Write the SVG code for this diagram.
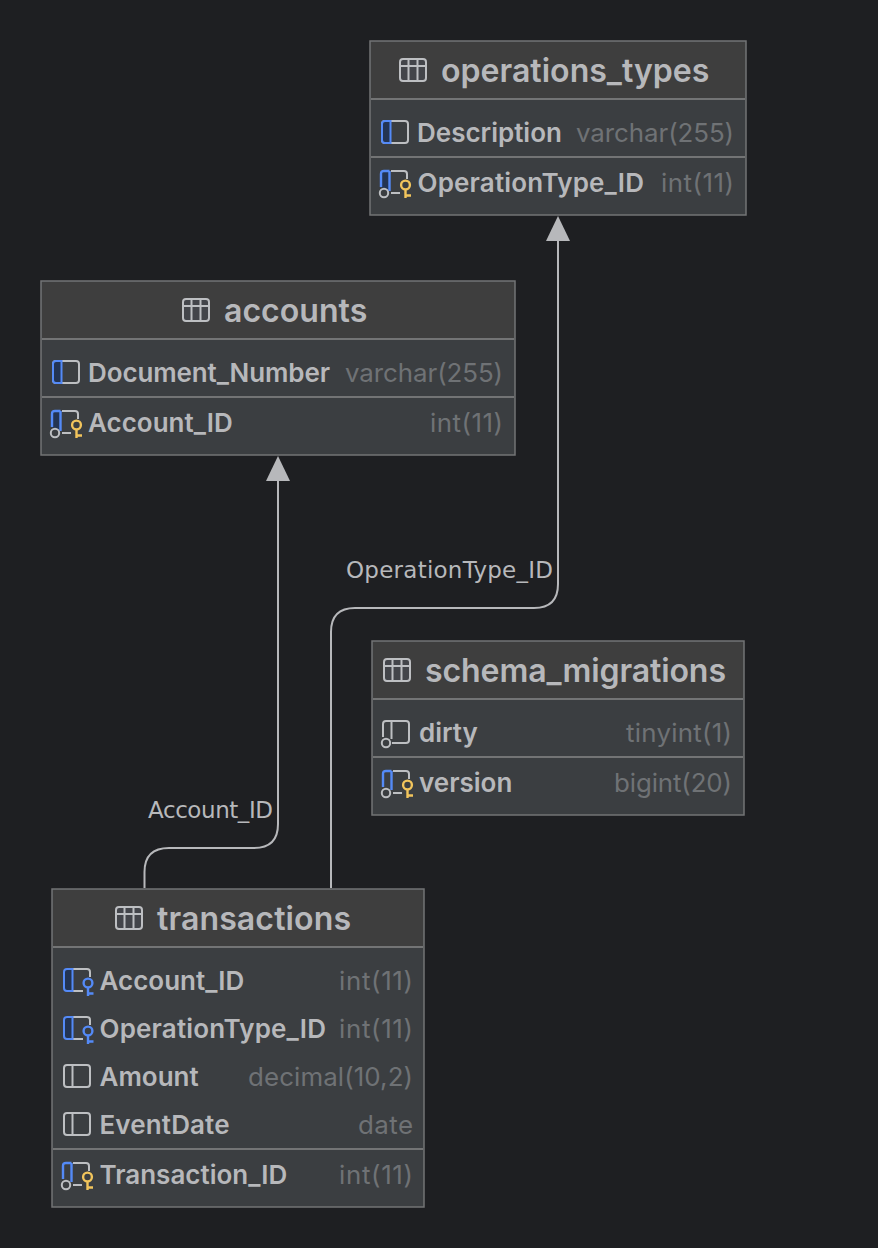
<svg xmlns="http://www.w3.org/2000/svg" width="878" height="1248" viewBox="0 0 878 1248">
<style>
.box{fill:#3b3e41;stroke:#737475;stroke-width:1.5}
.hd{fill:#3e3e3e}
.sep{stroke:#737475;stroke-width:2}
text{font-family:Inter,"Liberation Sans",sans-serif}
.t{font-size:32.1px;font-weight:600;fill:#b7b8bb}
.c{font-size:26px;font-weight:600;fill:#b7b8bb}
.y{font-size:25.9px;fill:#6f7275;text-anchor:end}
.l{font-family:"DejaVu Sans","Liberation Sans",sans-serif;font-size:23px;fill:#b7b8bb}
.w{fill:none;stroke:#bdbfc2;stroke-width:2}
.b{fill:#233453;stroke:#548af7;stroke-width:2}
.k{fill:none;stroke:#f2c55c;stroke-width:2.4}
.ko{fill:#3b3e41;stroke:#bdbfc2;stroke-width:2}
.kb{fill:none;stroke:#548af7;stroke-width:2.4}
.conn{fill:none;stroke:#b7b8bb;stroke-width:2}
</style>
<defs>
<g id="tbl"><rect x="1" y="1" width="26" height="22" rx="3" fill="#43454a" stroke="#bdbfc2" stroke-width="2"/><path d="M1 8H27M9.5 1V23M18.5 1V23" stroke="#bdbfc2" stroke-width="2" fill="none"/></g>
<g id="col"><rect x="1" y="1" width="26" height="22" rx="3" class="w"/><path d="M9.5 1V23" class="w"/></g>
<g id="colb"><rect x="1" y="1" width="26" height="22" rx="3" class="w"/><path d="M9.5 1H4Q1 1 1 4V20Q1 23 4 23H9.5Z" class="b"/></g>
<g id="pk"><path d="M11 1H24Q27 1 27 4V9M11 23H20" class="w"/><path d="M2 2H9.5V21H2Z" fill="#233453"/><path d="M9.5 1H4Q1 1 1 4V17M9.5 1V21" class="kb"/><circle cx="4" cy="23" r="4.2" class="ko"/><circle cx="25.5" cy="15" r="4.4" class="k"/><path d="M25.5 19.5V28M25.5 25.5H31" class="k"/></g>
<g id="pkn"><path d="M11 1H24Q27 1 27 4V9M11 23H20" class="w"/><path d="M9.5 1H4Q1 1 1 4V17M9.5 1V20" class="kb"/><circle cx="4" cy="23" r="4.2" class="ko"/><circle cx="25.5" cy="15" r="4.4" class="k"/><path d="M25.5 19.5V28M25.5 25.5H31" class="k"/></g>
<g id="fk"><path d="M9.5 1H24Q27 1 27 4V9M9.5 23H20" class="w"/><path d="M9.5 1H4Q1 1 1 4V20Q1 23 4 23H9.5Z" class="b"/><circle cx="25" cy="15" r="4.4" class="kb"/><path d="M25 19.5V28M25 25.5H30.5" class="kb"/></g>
<g id="nul"><path d="M9.5 1H24Q27 1 27 4V20Q27 23 24 23H10M9.5 1H4Q1 1 1 4V17M9.5 1V19" class="w"/><circle cx="4" cy="23" r="4.2" class="ko"/></g>
</defs>

<rect width="878" height="1248" fill="#1e1f22"/>

<g id="connectors">
<path class="conn" d="M331 888V632Q331 608 355 608H534Q558 608 558 584V240"/>
<polygon points="558,216 546,241 570,241" fill="#b7b8bb"/>
<path class="conn" d="M144.5 888V872Q144.5 848 169 848H254Q278 848 278 824V480"/>
<polygon points="278,456 266,481 290,481" fill="#b7b8bb"/>
<text class="l" x="346" y="578" textLength="207">OperationType_ID</text>
<text class="l" x="148" y="818" textLength="125">Account_ID</text>
</g>

<g id="operations_types">
<rect class="box" x="370" y="41" width="376" height="174"/>
<rect class="hd" x="371" y="42" width="374" height="57"/>
<path class="sep" d="M371 99H745M371 157H745"/>
<use href="#tbl" x="399" y="58"/>
<text class="t" x="441" y="82">operations_types</text>
<use href="#colb" x="381" y="120"/>
<text class="c" x="417" y="142">Description</text>
<text class="y" x="734" y="142" textLength="158">varchar(255)</text>
<use href="#pk" x="380" y="170"/>
<text class="c" x="417.5" y="192" textLength="226.5">OperationType_ID</text>
<text class="y" x="734" y="192" textLength="73">int(11)</text>
</g>

<g id="accounts">
<rect class="box" x="41" y="281" width="474" height="174"/>
<rect class="hd" x="42" y="282" width="472" height="57"/>
<path class="sep" d="M42 339H514M42 397H514"/>
<use href="#tbl" x="182" y="298"/>
<text class="t" x="224" y="322">accounts</text>
<use href="#colb" x="52" y="360"/>
<text class="c" x="88" y="382" textLength="242">Document_Number</text>
<text class="y" x="503" y="382" textLength="158">varchar(255)</text>
<use href="#pk" x="51" y="410"/>
<text class="c" x="88" y="432">Account_ID</text>
<text class="y" x="503" y="432" textLength="73">int(11)</text>
</g>

<g id="schema_migrations">
<rect class="box" x="372" y="641" width="372" height="174"/>
<rect class="hd" x="373" y="642" width="370" height="57"/>
<path class="sep" d="M373 699H743M373 757H743"/>
<use href="#tbl" x="383" y="658"/>
<text class="t" x="425" y="682" textLength="301">schema_migrations</text>
<use href="#nul" x="382" y="720"/>
<text class="c" x="419" y="742">dirty</text>
<text class="y" x="732" y="742" textLength="106">tinyint(1)</text>
<use href="#pkn" x="382" y="770"/>
<text class="c" x="419" y="792">version</text>
<text class="y" x="732" y="792" textLength="118">bigint(20)</text>
</g>

<g id="transactions">
<rect class="box" x="52" y="889" width="372" height="318"/>
<rect class="hd" x="53" y="890" width="370" height="57"/>
<path class="sep" d="M53 947H423M53 1149H423"/>
<use href="#tbl" x="115" y="906"/>
<text class="t" x="157" y="930" textLength="194">transactions</text>
<use href="#fk" x="63" y="968"/>
<text class="c" x="99.5" y="990">Account_ID</text>
<text class="y" x="413" y="990" textLength="74">int(11)</text>
<use href="#fk" x="63" y="1016"/>
<text class="c" x="99.5" y="1038" textLength="226.5">OperationType_ID</text>
<text class="y" x="413" y="1038" textLength="74">int(11)</text>
<use href="#col" x="63" y="1064"/>
<text class="c" x="99.5" y="1086">Amount</text>
<text class="y" x="413" y="1086" textLength="165">decimal(10,2)</text>
<use href="#col" x="63" y="1112"/>
<text class="c" x="99.5" y="1134" textLength="130">EventDate</text>
<text class="y" x="413" y="1134" textLength="55">date</text>
<use href="#pkn" x="62" y="1162"/>
<text class="c" x="99.5" y="1184">Transaction_ID</text>
<text class="y" x="413" y="1184" textLength="74">int(11)</text>
</g>
</svg>
